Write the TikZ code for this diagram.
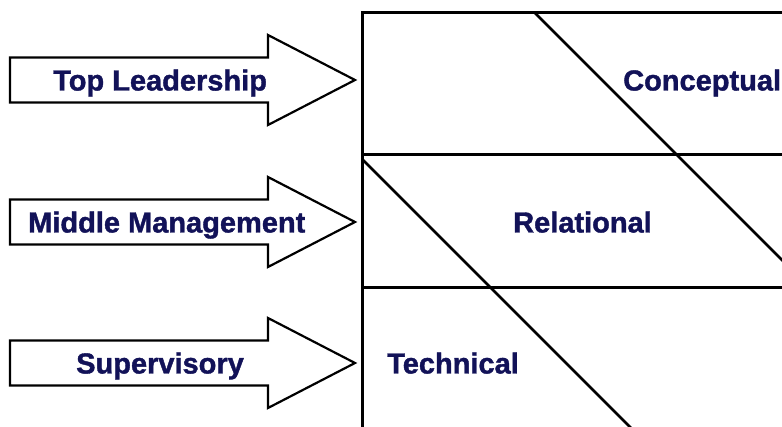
\documentclass[tikz,border=0pt]{standalone}
\usepackage{fontspec}
\setmainfont{Liberation Sans}[BoldFeatures={FakeBold=1.3}]
\definecolor{label}{RGB}{18,18,88}

\begin{document}
\begin{tikzpicture}[
  x=1pt, y=1pt,
  every node/.style={font=\fontsize{29}{34}\selectfont\bfseries, text=label,
                     inner sep=0pt, anchor=base west},
  levelarrow/.style={draw, line width=2.2pt, fill=white, line join=miter},
  grid/.style={line width=3pt, line cap=rect}
]
\clip (0,0) rectangle (782,426);

% block arrows for the three levels
\foreach \y in {346,204,63}
  \draw[levelarrow] (10,\y+22.5) -- (268,\y+22.5) -- (268,\y+45) -- (355,\y)
    -- (268,\y-45) -- (268,\y-22.5) -- (10,\y-22.5) -- cycle;

% skill table, running off the page
\draw[grid] (800,413) -- (362,413) -- (362,-20);
\draw[grid] (362,271) -- (800,271);
\draw[grid] (362,138) -- (800,138);
\draw[line width=2.6pt] (535,413) -- (800,148);
\draw[line width=2.6pt] (362,267) -- (662,-33);

\node (top) at (53,335.5) {Top Leadership};
\node (middle) at (28,193.5) {Middle Management};
\node (super) at (76,52.5) {Supervisory};

\node (concept) at (623,335.5) {Conceptual};
\node (relation) at (513,193.5) {Relational};
\node (tech) at (387,52.5) {Technical};

\end{tikzpicture}
\end{document}
